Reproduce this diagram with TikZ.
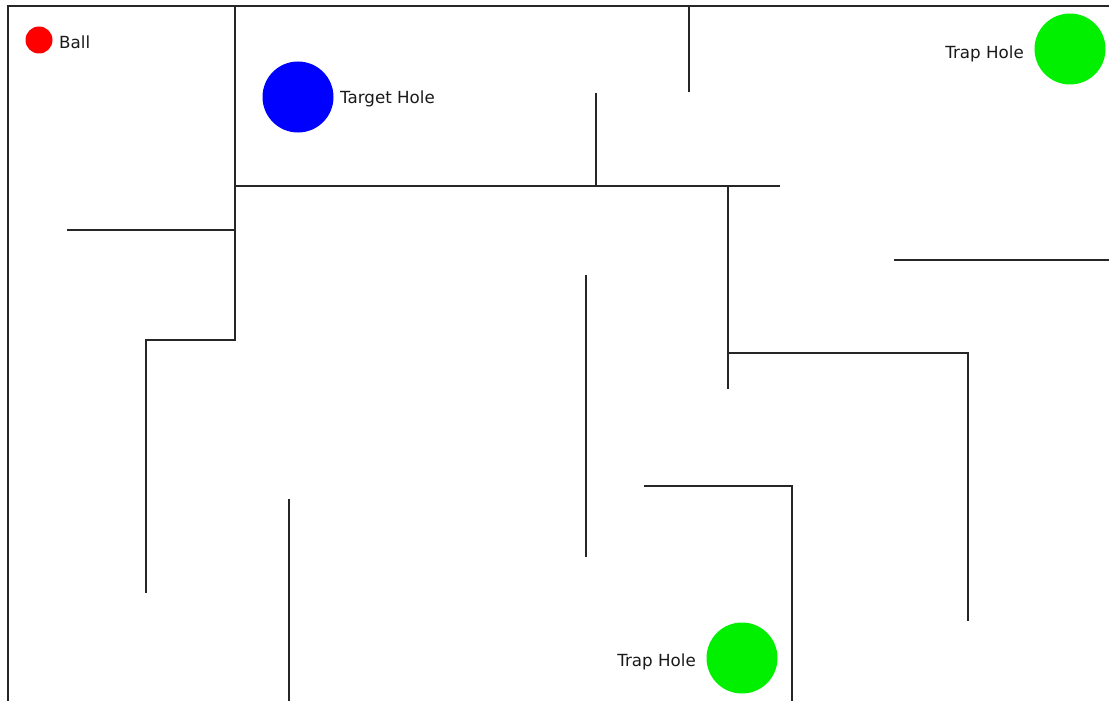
\documentclass[tikz,border=0pt]{standalone}
\usepackage{fontspec}
\setmainfont{DejaVu Sans}
\begin{document}
\begin{tikzpicture}[x=1pt,y=-1pt,
  wall/.style={draw=black!85,line width=1.3pt},
  hole/.style={circle,inner sep=0pt,minimum size=#1},
  lbl/.style={font=\fontsize{16.7}{18}\selectfont,inner sep=0pt,text=black!90}]
\useasboundingbox (0,0) rectangle (1109,701);
% walls
\draw[wall] (8,701) -- (8,6) -- (1109,6);
\draw[wall] (235,6) -- (235,340) -- (146,340) -- (146,593);
\draw[wall] (235,186) -- (780,186);
\draw[wall] (67,230) -- (235,230);
\draw[wall] (689,6) -- (689,92);
\draw[wall] (596,93) -- (596,186);
\draw[wall] (728,186) -- (728,389);
\draw[wall] (728,353) -- (968,353) -- (968,621);
\draw[wall] (894,260) -- (1109,260);
\draw[wall] (586,275) -- (586,557);
\draw[wall] (644,486) -- (792,486) -- (792,701);
\draw[wall] (289,499) -- (289,701);
% holes
\node[hole=27pt,fill=red] (ball) at (39,40) {};
\node[lbl,anchor=west] (balllbl) at (59,42) {Ball};
\node[hole=71pt,fill=blue] (target) at (298,97) {};
\node[lbl,anchor=west] (targetlbl) at (340,99) {Target Hole};
\node[hole=71pt,fill={rgb,255:red,0;green,240;blue,0}] (trap1) at (1070,49) {};
\node[lbl,anchor=east] (trap1lbl) at (1024,54) {Trap Hole};
\node[hole=71pt,fill={rgb,255:red,0;green,240;blue,0}] (trap2) at (742,658) {};
\node[lbl,anchor=east] (trap2lbl) at (696,662) {Trap Hole};
\end{tikzpicture}
\end{document}
